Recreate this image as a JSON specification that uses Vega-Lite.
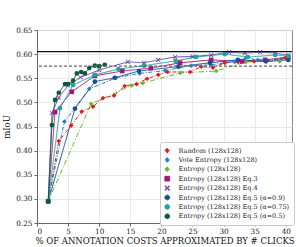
{
  "$schema": "https://vega.github.io/schema/vega-lite/v6.json",
  "width": 255,
  "height": 193,
  "autosize": {"type": "none"},
  "padding": {"left": 37, "top": 30, "right": 4, "bottom": 24},
  "background": "white",
  "config": {
    "font": "DejaVu Serif",
    "view": {"stroke": "#888888", "strokeWidth": 1},
    "axis": {
      "labelFont": "DejaVu Serif", "titleFont": "DejaVu Serif",
      "labelFontSize": 7.3, "titleFontSize": 8.5, "titleFontWeight": "normal",
      "labelColor": "#222", "titleColor": "#111", "labelOverlap": false,
      "gridColor": "#e3e3e3", "gridWidth": 0.8,
      "domainColor": "#666", "tickColor": "#666", "tickSize": 3
    },
    "legend": {"labelFont": "DejaVu Serif", "labelFontSize": 6.5, "labelColor": "#222"}
  },
  "datasets": {
    "refs": [{"v": 0.605, "k": "top"}, {"v": 0.575, "k": "dash"}],
    "pts": [
      {"s": "Random (128x128)", "x": 1.8, "y": 0.295},
      {"s": "Random (128x128)", "x": 3.5, "y": 0.42},
      {"s": "Random (128x128)", "x": 5.5, "y": 0.452},
      {"s": "Random (128x128)", "x": 7.2, "y": 0.481},
      {"s": "Random (128x128)", "x": 9.0, "y": 0.491},
      {"s": "Random (128x128)", "x": 10.6, "y": 0.509},
      {"s": "Random (128x128)", "x": 12.4, "y": 0.514},
      {"s": "Random (128x128)", "x": 14.1, "y": 0.534},
      {"s": "Random (128x128)", "x": 16.0, "y": 0.538},
      {"s": "Random (128x128)", "x": 17.7, "y": 0.549},
      {"s": "Random (128x128)", "x": 19.5, "y": 0.557},
      {"s": "Random (128x128)", "x": 21.0, "y": 0.563},
      {"s": "Random (128x128)", "x": 24.6, "y": 0.563},
      {"s": "Random (128x128)", "x": 26.4, "y": 0.574},
      {"s": "Random (128x128)", "x": 28.3, "y": 0.572},
      {"s": "Random (128x128)", "x": 30.2, "y": 0.582},
      {"s": "Random (128x128)", "x": 32.3, "y": 0.584},
      {"s": "Random (128x128)", "x": 34.9, "y": 0.585},
      {"s": "Random (128x128)", "x": 36.8, "y": 0.586},
      {"s": "Random (128x128)", "x": 39.9, "y": 0.592},
      {"s": "Vote Entropy (128x128)", "x": 1.8, "y": 0.295},
      {"s": "Vote Entropy (128x128)", "x": 4.4, "y": 0.46},
      {"s": "Vote Entropy (128x128)", "x": 8.4, "y": 0.528},
      {"s": "Vote Entropy (128x128)", "x": 12.7, "y": 0.551},
      {"s": "Vote Entropy (128x128)", "x": 16.5, "y": 0.56},
      {"s": "Vote Entropy (128x128)", "x": 20.6, "y": 0.566},
      {"s": "Vote Entropy (128x128)", "x": 24.8, "y": 0.576},
      {"s": "Vote Entropy (128x128)", "x": 28.0, "y": 0.578},
      {"s": "Vote Entropy (128x128)", "x": 31.8, "y": 0.584},
      {"s": "Vote Entropy (128x128)", "x": 33.6, "y": 0.592},
      {"s": "Vote Entropy (128x128)", "x": 35.5, "y": 0.588},
      {"s": "Vote Entropy (128x128)", "x": 39.2, "y": 0.589},
      {"s": "Entropy (128x128)", "x": 1.8, "y": 0.295},
      {"s": "Entropy (128x128)", "x": 8.7, "y": 0.497},
      {"s": "Entropy (128x128)", "x": 15.2, "y": 0.535},
      {"s": "Entropy (128x128)", "x": 17.0, "y": 0.54},
      {"s": "Entropy (128x128)", "x": 23.0, "y": 0.561},
      {"s": "Entropy (128x128)", "x": 28.8, "y": 0.565},
      {"s": "Entropy (128x128)", "x": 33.6, "y": 0.584},
      {"s": "Entropy (128x128)", "x": 39.0, "y": 0.585},
      {"s": "Entropy (128x128) Eq.3", "x": 1.8, "y": 0.295},
      {"s": "Entropy (128x128) Eq.3", "x": 2.9, "y": 0.48},
      {"s": "Entropy (128x128) Eq.3", "x": 5.6, "y": 0.522},
      {"s": "Entropy (128x128) Eq.3", "x": 9.3, "y": 0.555},
      {"s": "Entropy (128x128) Eq.3", "x": 13.7, "y": 0.565},
      {"s": "Entropy (128x128) Eq.3", "x": 18.3, "y": 0.571},
      {"s": "Entropy (128x128) Eq.3", "x": 23.0, "y": 0.582},
      {"s": "Entropy (128x128) Eq.3", "x": 28.0, "y": 0.588},
      {"s": "Entropy (128x128) Eq.3", "x": 33.0, "y": 0.585},
      {"s": "Entropy (128x128) Eq.3", "x": 36.7, "y": 0.588},
      {"s": "Entropy (128x128) Eq.3", "x": 40.4, "y": 0.594},
      {"s": "Entropy (128x128) Eq.4", "x": 1.8, "y": 0.295},
      {"s": "Entropy (128x128) Eq.4", "x": 2.4, "y": 0.478},
      {"s": "Entropy (128x128) Eq.4", "x": 3.5, "y": 0.51},
      {"s": "Entropy (128x128) Eq.4", "x": 5.0, "y": 0.535},
      {"s": "Entropy (128x128) Eq.4", "x": 7.0, "y": 0.552},
      {"s": "Entropy (128x128) Eq.4", "x": 10.0, "y": 0.567},
      {"s": "Entropy (128x128) Eq.4", "x": 14.6, "y": 0.584},
      {"s": "Entropy (128x128) Eq.4", "x": 17.2, "y": 0.582},
      {"s": "Entropy (128x128) Eq.4", "x": 19.5, "y": 0.588},
      {"s": "Entropy (128x128) Eq.4", "x": 22.2, "y": 0.594},
      {"s": "Entropy (128x128) Eq.4", "x": 25.0, "y": 0.595},
      {"s": "Entropy (128x128) Eq.4", "x": 28.0, "y": 0.598},
      {"s": "Entropy (128x128) Eq.4", "x": 30.9, "y": 0.604},
      {"s": "Entropy (128x128) Eq.4", "x": 33.4, "y": 0.602},
      {"s": "Entropy (128x128) Eq.4", "x": 35.9, "y": 0.604},
      {"s": "Entropy (128x128) Eq.4", "x": 38.3, "y": 0.602},
      {"s": "Entropy (128x128) Eq.4", "x": 40.4, "y": 0.598},
      {"s": "Entropy (128x128) Eq.5 (α=0.9)", "x": 1.8, "y": 0.295},
      {"s": "Entropy (128x128) Eq.5 (α=0.9)", "x": 6.1, "y": 0.487},
      {"s": "Entropy (128x128) Eq.5 (α=0.9)", "x": 9.3, "y": 0.543},
      {"s": "Entropy (128x128) Eq.5 (α=0.9)", "x": 12.5, "y": 0.551},
      {"s": "Entropy (128x128) Eq.5 (α=0.9)", "x": 16.4, "y": 0.565},
      {"s": "Entropy (128x128) Eq.5 (α=0.9)", "x": 22.7, "y": 0.574},
      {"s": "Entropy (128x128) Eq.5 (α=0.9)", "x": 27.8, "y": 0.582},
      {"s": "Entropy (128x128) Eq.5 (α=0.9)", "x": 32.3, "y": 0.588},
      {"s": "Entropy (128x128) Eq.5 (α=0.9)", "x": 36.8, "y": 0.585},
      {"s": "Entropy (128x128) Eq.5 (α=0.9)", "x": 40.4, "y": 0.588},
      {"s": "Entropy (128x128) Eq.5 (α=0.75)", "x": 1.8, "y": 0.295},
      {"s": "Entropy (128x128) Eq.5 (α=0.75)", "x": 3.7, "y": 0.488},
      {"s": "Entropy (128x128) Eq.5 (α=0.75)", "x": 5.8, "y": 0.536},
      {"s": "Entropy (128x128) Eq.5 (α=0.75)", "x": 9.3, "y": 0.557},
      {"s": "Entropy (128x128) Eq.5 (α=0.75)", "x": 13.1, "y": 0.569},
      {"s": "Entropy (128x128) Eq.5 (α=0.75)", "x": 17.2, "y": 0.576},
      {"s": "Entropy (128x128) Eq.5 (α=0.75)", "x": 22.3, "y": 0.586},
      {"s": "Entropy (128x128) Eq.5 (α=0.75)", "x": 25.6, "y": 0.594},
      {"s": "Entropy (128x128) Eq.5 (α=0.75)", "x": 30.2, "y": 0.6},
      {"s": "Entropy (128x128) Eq.5 (α=0.75)", "x": 33.9, "y": 0.594},
      {"s": "Entropy (128x128) Eq.5 (α=0.75)", "x": 38.3, "y": 0.598},
      {"s": "Entropy (128x128) Eq.5 (α=0.75)", "x": 40.4, "y": 0.596},
      {"s": "Entropy (128x128) Eq.5 (α=0.5)", "x": 1.8, "y": 0.295},
      {"s": "Entropy (128x128) Eq.5 (α=0.5)", "x": 2.4, "y": 0.453},
      {"s": "Entropy (128x128) Eq.5 (α=0.5)", "x": 2.9, "y": 0.505},
      {"s": "Entropy (128x128) Eq.5 (α=0.5)", "x": 3.5, "y": 0.52},
      {"s": "Entropy (128x128) Eq.5 (α=0.5)", "x": 4.5, "y": 0.538},
      {"s": "Entropy (128x128) Eq.5 (α=0.5)", "x": 5.0, "y": 0.538},
      {"s": "Entropy (128x128) Eq.5 (α=0.5)", "x": 5.8, "y": 0.545},
      {"s": "Entropy (128x128) Eq.5 (α=0.5)", "x": 6.4, "y": 0.56},
      {"s": "Entropy (128x128) Eq.5 (α=0.5)", "x": 7.1, "y": 0.563},
      {"s": "Entropy (128x128) Eq.5 (α=0.5)", "x": 7.7, "y": 0.56},
      {"s": "Entropy (128x128) Eq.5 (α=0.5)", "x": 8.4, "y": 0.571},
      {"s": "Entropy (128x128) Eq.5 (α=0.5)", "x": 9.3, "y": 0.576},
      {"s": "Entropy (128x128) Eq.5 (α=0.5)", "x": 10.0, "y": 0.575},
      {"s": "Entropy (128x128) Eq.5 (α=0.5)", "x": 10.9, "y": 0.578}
    ]
  },
  "layer": [
    {
      "data": {"name": "pts"},
      "mark": {"type": "line", "strokeWidth": 1},
      "encoding": {
        "x": {"field": "x", "type": "quantitative", "scale": {"domain": [0, 41], "nice": false},
              "axis": {"values": [0, 5, 10, 15, 20, 25, 30, 35, 40], "labelOverlap": false, "title": "% OF ANNOTATION COSTS APPROXIMATED BY # CLICKS", "titlePadding": 2, "labelPadding": 1}},
        "y": {"field": "y", "type": "quantitative", "scale": {"domain": [0.25, 0.65], "nice": false, "zero": false},
              "axis": {"values": [0.25, 0.3, 0.35, 0.4, 0.45, 0.5, 0.55, 0.6, 0.65], "labelOverlap": false, "format": ".2f", "title": "mIoU", "titlePadding": 4, "labelPadding": 2}},
        "color": {"field": "s", "type": "nominal",
          "scale": {"domain": ["Random (128x128)", "Vote Entropy (128x128)", "Entropy (128x128)", "Entropy (128x128) Eq.3", "Entropy (128x128) Eq.4", "Entropy (128x128) Eq.5 (α=0.9)", "Entropy (128x128) Eq.5 (α=0.75)", "Entropy (128x128) Eq.5 (α=0.5)"],
                    "range": ["#e31a1c", "#1f7fd0", "#66b82a", "#a0177a", "#6a4aa0", "#1a4f8f", "#1ea3a3", "#0c5a3c"]},
          "legend": {"title": null, "orient": "none", "legendX": 123, "legendY": 112, "padding": 4, "rowPadding": 0.4, "clipHeight": 9, "symbolSize": 22, "symbolStrokeWidth": 1, "strokeColor": "#cccccc", "fillColor": "white", "cornerRadius": 2, "labelOffset": 8, "labelLimit": 200}},
        "strokeDash": {"field": "s", "type": "nominal", "legend": null,
          "scale": {"domain": ["Random (128x128)", "Vote Entropy (128x128)", "Entropy (128x128)", "Entropy (128x128) Eq.3", "Entropy (128x128) Eq.4", "Entropy (128x128) Eq.5 (α=0.9)", "Entropy (128x128) Eq.5 (α=0.75)", "Entropy (128x128) Eq.5 (α=0.5)"],
                    "range": [[4, 1.5, 1, 1.5], [4, 1.5, 1, 1.5], [5, 2, 1, 2], [1, 0], [1, 0], [1, 0], [1, 0], [1, 0]]}},
        "order": {"field": "x", "type": "quantitative"}
      }
    },
    {
      "data": {"name": "pts"},
      "mark": {"type": "point", "filled": true, "opacity": 1, "size": 22},
      "encoding": {
        "x": {"field": "x", "type": "quantitative",
              "axis": {"values": [0, 5, 10, 15, 20, 25, 30, 35, 40], "labelOverlap": false, "title": "% OF ANNOTATION COSTS APPROXIMATED BY # CLICKS", "titlePadding": 2, "labelPadding": 1}},
        "y": {"field": "y", "type": "quantitative",
              "axis": {"values": [0.25, 0.3, 0.35, 0.4, 0.45, 0.5, 0.55, 0.6, 0.65], "labelOverlap": false, "format": ".2f", "title": "mIoU", "titlePadding": 4, "labelPadding": 2}},
        "color": {"field": "s", "type": "nominal"},
        "shape": {"field": "s", "type": "nominal",
          "scale": {"domain": ["Random (128x128)", "Vote Entropy (128x128)", "Entropy (128x128)", "Entropy (128x128) Eq.3", "Entropy (128x128) Eq.4", "Entropy (128x128) Eq.5 (α=0.9)", "Entropy (128x128) Eq.5 (α=0.75)", "Entropy (128x128) Eq.5 (α=0.5)"],
                    "range": ["diamond", "diamond", "diamond", "square", "M-1,-0.75L-0.75,-1L0,-0.25L0.75,-1L1,-0.75L0.25,0L1,0.75L0.75,1L0,0.25L-0.75,1L-1,0.75L-0.25,0Z", "circle", "circle", "circle"]}}
      }
    },
    {
      "data": {"name": "refs"},
      "mark": {"type": "rule", "strokeWidth": 1.2},
      "encoding": {
        "y": {"field": "v", "type": "quantitative",
              "axis": {"values": [0.25, 0.3, 0.35, 0.4, 0.45, 0.5, 0.55, 0.6, 0.65], "labelOverlap": false, "format": ".2f", "title": "mIoU", "titlePadding": 4, "labelPadding": 2}},
        "color": {"condition": {"test": "datum.k == 'dash'", "value": "#666666"}, "value": "#111111"},
        "strokeDash": {"condition": {"test": "datum.k == 'dash'", "value": [3, 2]}, "value": [1, 0]}
      }
    }
  ]
}
